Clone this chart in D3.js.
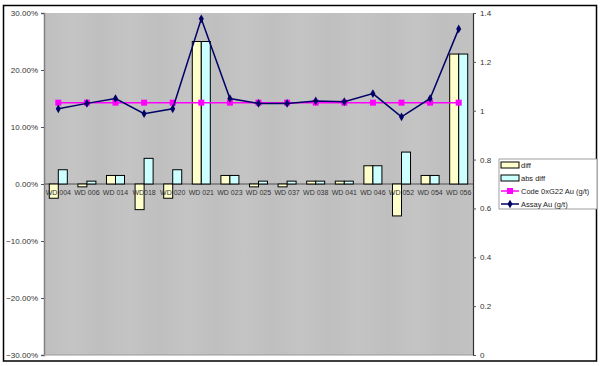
<!DOCTYPE html>
<html>
<head>
<meta charset="utf-8">
<script src="https://cdn.jsdelivr.net/npm/d3@7"></script>
<style>
  body { margin: 0; background: #fff; }
  svg { display: block; font-family: "Liberation Sans", Arial, sans-serif; }
</style>
</head>
<body>
<div id="chart"></div>
<script>
const width = 603;
const height = 366;

// data
const categories = ["WD 004", "WD 006", "WD 014", "WD018", "WD 020", "WD 021", "WD 023", "WD 025",
  "WD 037", "WD 038", "WD 041", "WD 046", "WD 052", "WD 054", "WD 056"];
const diff = [-0.025, -0.005, 0.015, -0.045, -0.025, 0.25, 0.015, -0.005,
  -0.005, 0.005, 0.005, 0.032, -0.056, 0.015, 0.228];
const absDiff = [0.025, 0.005, 0.015, 0.045, 0.025, 0.25, 0.015, 0.005,
  0.005, 0.005, 0.005, 0.032, 0.056, 0.015, 0.228];
const codeAu = [1.033, 1.033, 1.033, 1.033, 1.033, 1.033, 1.033, 1.033,
  1.033, 1.033, 1.033, 1.033, 1.033, 1.033, 1.033];
const assayAu = [1.008, 1.03, 1.05, 0.988, 1.008, 1.376, 1.05, 1.03,
  1.03, 1.04, 1.037, 1.07, 0.975, 1.05, 1.335];
const leftTicks = [0.3, 0.2, 0.1, 0, -0.1, -0.2, -0.3];
const rightTicks = [0, 0.2, 0.4, 0.6, 0.8, 1, 1.2, 1.4];

const plot = { left: 44, right: 473, top: 13, bottom: 355 };

const svg = d3.select("#chart").append("svg")
  .attr("width", width)
  .attr("height", height);

// outer chart border
svg.append("rect")
  .attr("x", 3.5).attr("y", 5.5)
  .attr("width", 593).attr("height", 355.5)
  .attr("fill", "#fff")
  .attr("stroke", "#000")
  .attr("stroke-width", 1.5);

const x = d3.scaleBand()
  .domain(categories)
  .range([plot.left, plot.right])
  .paddingInner(0.37)
  .paddingOuter(0.185);

const xSub = d3.scaleBand()
  .domain(["diff", "abs"])
  .range([0, x.bandwidth()]);

const yLeft = d3.scaleLinear().domain([-0.3, 0.3]).range([plot.bottom, plot.top]);
const yRight = d3.scaleLinear().domain([0, 1.4]).range([plot.bottom, plot.top]);

const center = d => x(d) - x.step() * x.paddingInner() / 2 + x.step() / 2;

// plot background with faint vertical banding
const grad = svg.append("defs").append("linearGradient")
  .attr("id", "bg").attr("x1", 0).attr("x2", 1).attr("y1", 0).attr("y2", 0);
categories.forEach((c, i) => {
  grad.append("stop").attr("offset", i / categories.length).attr("stop-color", i % 2 ? "#c4c4c4" : "#bfbfbf");
});
grad.append("stop").attr("offset", 1).attr("stop-color", "#c2c2c2");

svg.append("rect")
  .attr("x", plot.left).attr("y", plot.top)
  .attr("width", plot.right - plot.left).attr("height", plot.bottom - plot.top)
  .attr("fill", "url(#bg)");

// zero line
svg.append("line")
  .attr("x1", plot.left).attr("x2", plot.right)
  .attr("y1", yLeft(0)).attr("y2", yLeft(0))
  .attr("stroke", "#333").attr("stroke-width", 0.8);

// bars
const groups = svg.append("g").selectAll("g")
  .data(categories)
  .join("g")
  .attr("transform", d => `translate(${x(d)},0)`);

groups.append("rect")
  .attr("x", xSub("diff"))
  .attr("width", xSub.bandwidth())
  .attr("y", (d, i) => yLeft(Math.max(0, diff[i])))
  .attr("height", (d, i) => Math.abs(yLeft(diff[i]) - yLeft(0)))
  .attr("fill", "#ffffcc")
  .attr("stroke", "#000")
  .attr("stroke-width", 1);

groups.append("rect")
  .attr("x", xSub("abs"))
  .attr("width", xSub.bandwidth())
  .attr("y", (d, i) => yLeft(Math.max(0, absDiff[i])))
  .attr("height", (d, i) => Math.abs(yLeft(absDiff[i]) - yLeft(0)))
  .attr("fill", "#ccffff")
  .attr("stroke", "#000")
  .attr("stroke-width", 1);

// category labels sitting below the zero line
svg.append("g").selectAll("text")
  .data(categories)
  .join("text")
  .attr("x", d => center(d))
  .attr("y", yLeft(0) + 11)
  .attr("text-anchor", "middle")
  .attr("font-size", 7)
  .attr("fill", "#333")
  .text(d => d);

// lines
const line = d3.line()
  .x((d, i) => center(categories[i]))
  .y(d => yRight(d));

svg.append("path")
  .datum(codeAu)
  .attr("d", line)
  .attr("fill", "none")
  .attr("stroke", "#ff00ff")
  .attr("stroke-width", 1.5);

svg.append("g").selectAll("rect")
  .data(codeAu)
  .join("rect")
  .attr("x", (d, i) => center(categories[i]) - 3)
  .attr("y", d => yRight(d) - 3)
  .attr("width", 6).attr("height", 6)
  .attr("fill", "#ff00ff");

svg.append("path")
  .datum(assayAu)
  .attr("d", line)
  .attr("fill", "none")
  .attr("stroke", "#000066")
  .attr("stroke-width", 1.5);

svg.append("g").selectAll("path")
  .data(assayAu)
  .join("path")
  .attr("d", d3.symbol(d3.symbolDiamond, 22))
  .attr("transform", (d, i) => `translate(${center(categories[i])},${yRight(d)})`)
  .attr("fill", "#000066");

// axes
const leftAxis = svg.append("g")
  .attr("transform", `translate(${plot.left},0)`)
  .call(d3.axisLeft(yLeft).tickValues(leftTicks).tickFormat(d3.format(".2%")).tickSize(3).tickPadding(3));
leftAxis.select(".domain").attr("stroke", "#808080").attr("stroke-width", 1.5);

const rightAxis = svg.append("g")
  .attr("transform", `translate(${plot.right},0)`)
  .call(d3.axisRight(yRight).tickValues(rightTicks).tickFormat(d3.format("")).tickSize(3).tickPadding(4));
rightAxis.select(".domain").attr("stroke", "#333").attr("stroke-width", 1.2);

svg.selectAll(".tick text").attr("font-size", 8).attr("fill", "#333")
  .attr("font-family", "'Liberation Sans', Arial, sans-serif");
svg.selectAll(".tick line").attr("stroke", "#555");

// bottom edge of plot
svg.append("line")
  .attr("x1", plot.left).attr("x2", plot.right)
  .attr("y1", plot.bottom).attr("y2", plot.bottom)
  .attr("stroke", "#999").attr("stroke-width", 1);

// legend
const legend = svg.append("g").attr("transform", "translate(499,159)");
legend.append("rect")
  .attr("width", 98).attr("height", 50)
  .attr("fill", "#fff")
  .attr("stroke", "#888").attr("stroke-width", 0.8);

const legendItems = [
  { name: "diff", type: "bar", color: "#ffffcc" },
  { name: "abs diff", type: "bar", color: "#ccffff" },
  { name: "Code 0xG22 Au (g/t)", type: "line", color: "#ff00ff" },
  { name: "Assay Au (g/t)", type: "line", color: "#000066" }
];

const li = legend.selectAll("g")
  .data(legendItems)
  .join("g")
  .attr("transform", (d, i) => `translate(0,${6 + i * 13})`);

li.filter(d => d.type === "bar").append("rect")
  .attr("x", 2).attr("y", -3)
  .attr("width", 18).attr("height", 6)
  .attr("fill", d => d.color)
  .attr("stroke", "#000").attr("stroke-width", 1);

li.filter(d => d.type === "line").append("line")
  .attr("x1", 2).attr("x2", 20)
  .attr("stroke", d => d.color).attr("stroke-width", 1.5);

li.filter(d => d.name.startsWith("Code")).append("rect")
  .attr("x", 8).attr("y", -3).attr("width", 6).attr("height", 6)
  .attr("fill", "#ff00ff");

li.filter(d => d.name.startsWith("Assay")).append("path")
  .attr("d", d3.symbol(d3.symbolDiamond, 22))
  .attr("transform", "translate(11,0)")
  .attr("fill", "#000066");

li.append("text")
  .attr("x", 22).attr("y", 3)
  .attr("font-size", 7.5)
  .attr("fill", "#222")
  .text(d => d.name);
</script>
</body>
</html>
